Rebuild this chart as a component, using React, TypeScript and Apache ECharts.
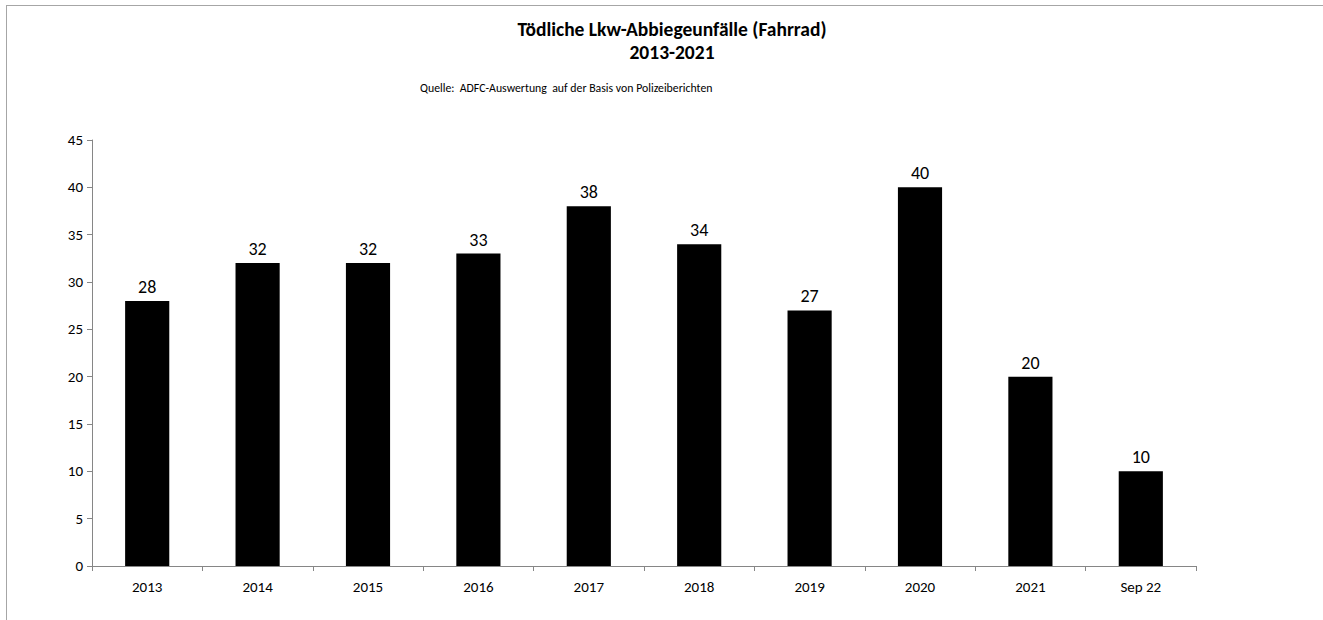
import React, { useEffect, useRef } from "react";
import * as echarts from "echarts";

const categories = ["2013", "2014", "2015", "2016", "2017", "2018", "2019", "2020", "2021", "Sep 22"];
const values = [28, 32, 32, 33, 38, 34, 27, 40, 20, 10];
const titleLines = ["Tödliche Lkw-Abbiegeunfälle (Fahrrad)", "2013-2021"];
const sourceText = "Quelle:  ADFC-Auswertung  auf der Basis von Polizeiberichten";

const FONT = "Carlito, 'Open Sans', 'Noto Sans', sans-serif";

export default function App() {
  const ref = useRef<HTMLDivElement>(null);
  useEffect(() => {
    if (!ref.current) return;
    const chart = echarts.init(ref.current, undefined, { renderer: "svg" });
    chart.setOption({
      animation: false,
      backgroundColor: "#ffffff",
      textStyle: { fontFamily: FONT },
      graphic: [
        { type: "line", shape: { x1: 6, y1: 5.5, x2: 1323, y2: 5.5 }, style: { stroke: "#a6a6a6", lineWidth: 1 } },
        { type: "line", shape: { x1: 6.5, y1: 5, x2: 6.5, y2: 620 }, style: { stroke: "#a6a6a6", lineWidth: 1 } },
        {
          type: "text",
          x: 672,
          y: 29,
          style: { text: titleLines[0], fill: "#000", fontFamily: FONT, fontSize: 19.5, fontWeight: "bold", textAlign: "center", textVerticalAlign: "middle" },
        },
        {
          type: "text",
          x: 672,
          y: 52,
          style: { text: titleLines[1], fill: "#000", fontFamily: FONT, fontSize: 19.5, fontWeight: "bold", textAlign: "center", textVerticalAlign: "middle" },
        },
        {
          type: "text",
          x: 420,
          y: 88,
          style: { text: sourceText, fill: "#000", font: `11.8px ${FONT}`, textAlign: "left", textVerticalAlign: "middle" },
        },
      ],
      grid: { left: 92, right: 127, top: 140, bottom: 54, containLabel: false },
      xAxis: {
        type: "category",
        data: categories,
        boundaryGap: true,
        axisLine: { lineStyle: { color: "#868686" } },
        axisTick: { show: true, alignWithLabel: false, length: 5, lineStyle: { color: "#868686" } },
        axisLabel: { color: "#000", fontSize: 15, margin: 13, fontFamily: FONT },
      },
      yAxis: {
        type: "value",
        min: 0,
        max: 45,
        interval: 5,
        splitLine: { show: false },
        axisLine: { show: true, lineStyle: { color: "#868686" } },
        axisTick: { show: true, length: 5, lineStyle: { color: "#868686" } },
        axisLabel: { color: "#000", fontSize: 15, margin: 9, fontFamily: FONT },
      },
      series: [
        {
          type: "bar",
          data: values,
          barWidth: "40%",
          itemStyle: { color: "#000" },
          label: { show: true, position: "top", color: "#000", fontSize: 18, distance: 5, fontFamily: FONT },
        },
      ],
    });
    return () => chart.dispose();
  }, []);
  return <div ref={ref} style={{ position: "absolute", left: 0, top: 0, width: 1323, height: 620 }} />;
}
